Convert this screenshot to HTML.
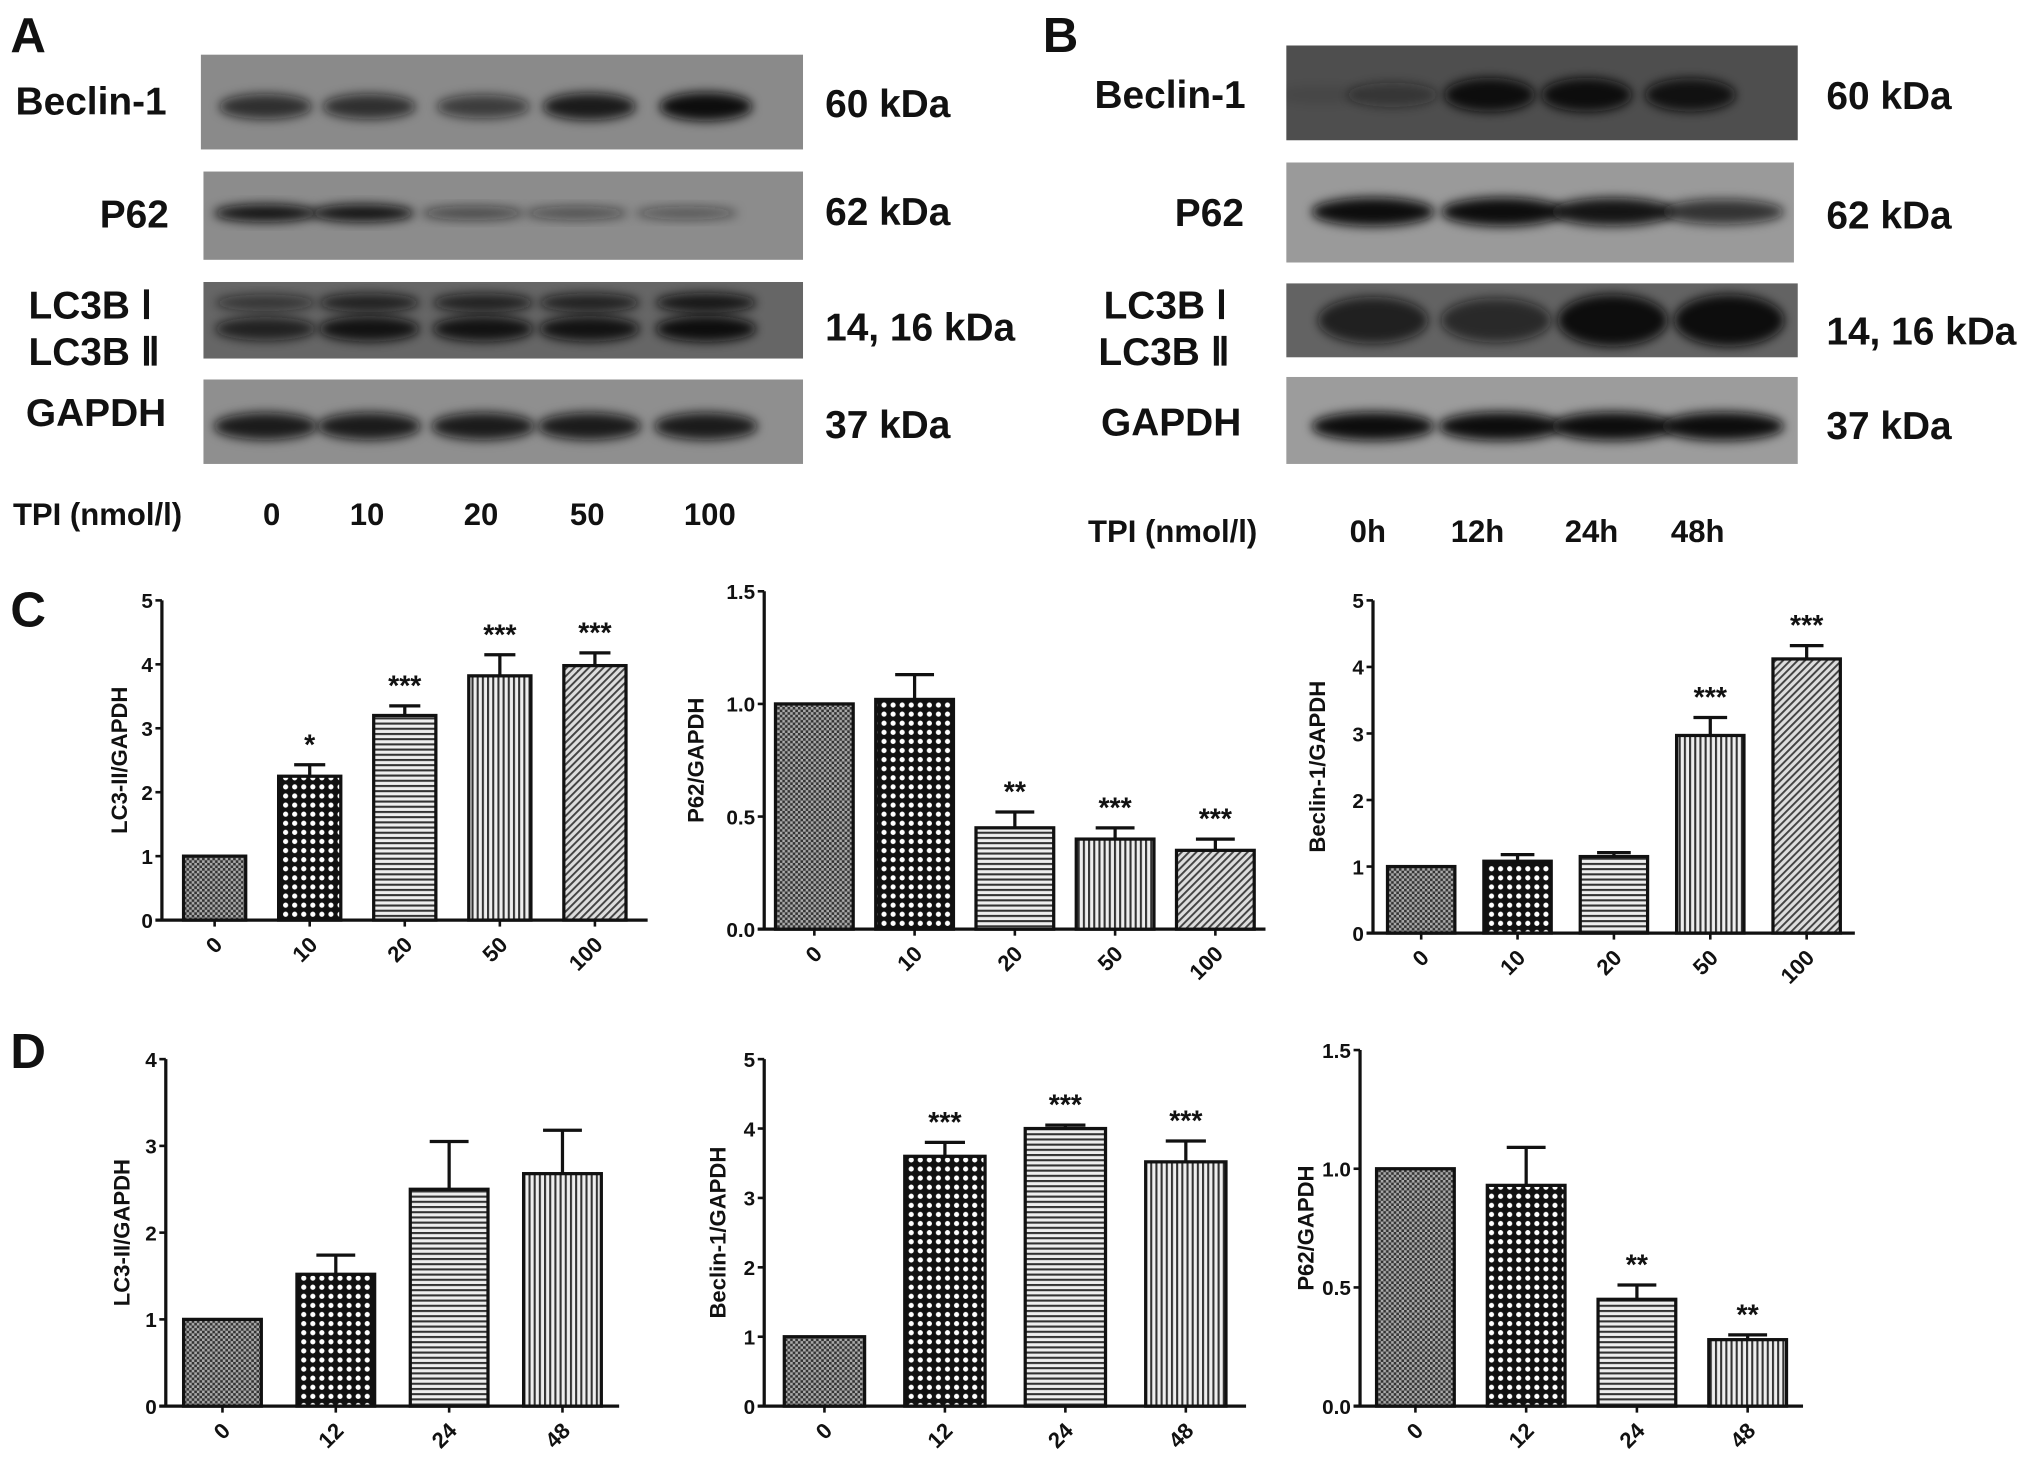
<!DOCTYPE html>
<html><head><meta charset="utf-8"><style>
html,body{margin:0;padding:0;background:#fff;}
svg{display:block;}
text{font-family:"Liberation Sans",Arial,sans-serif;font-weight:bold;fill:#111;}
</style></head><body>
<svg id="fig" width="2031" height="1475" viewBox="0 0 1568 1135" preserveAspectRatio="none" xmlns="http://www.w3.org/2000/svg">
<defs>
<filter id="blur" x="-20%" y="-50%" width="140%" height="200%"><feGaussianBlur stdDeviation="4"/></filter>
<pattern id="p-check" width="4" height="4" patternUnits="userSpaceOnUse"><rect width="4" height="4" fill="#aaa"/><rect width="2" height="2" fill="#333"/><rect x="2" y="2" width="2" height="2" fill="#333"/></pattern>
<pattern id="p-dots" width="7" height="7" patternUnits="userSpaceOnUse"><rect width="7" height="7" fill="#111"/><circle cx="3.5" cy="3.5" r="2" fill="#fff"/></pattern>
<pattern id="p-hline" width="4" height="4" patternUnits="userSpaceOnUse"><rect width="4" height="4" fill="#eee"/><rect width="4" height="1.6" fill="#333"/></pattern>
<pattern id="p-vline" width="4" height="4" patternUnits="userSpaceOnUse"><rect width="4" height="4" fill="#eee"/><rect width="1.6" height="4" fill="#333"/></pattern>
<pattern id="p-diag" width="4" height="4" patternUnits="userSpaceOnUse" patternTransform="rotate(45)"><rect width="4" height="4" fill="#ddd"/><rect width="1.5" height="4" fill="#444"/></pattern>
</defs>
<g id="blots"></g>
<g id="charts"></g>
</svg>
<script>
const NS="http://www.w3.org/2000/svg";
const svg=document.getElementById('fig');
const blots=document.getElementById('blots');
const charts=document.getElementById('charts');
const defs=svg.querySelector('defs');
function mk(tag,attrs,parent,text){const e=document.createElementNS(NS,tag);for(const k in attrs)e.setAttribute(k,attrs[k]);if(text!==undefined)e.textContent=text;(parent||svg).appendChild(e);return e;}

// ---- Panel letters ----
const letters=[["A",8,40],["B",805,40],["C",8,482],["D",8,822]];
letters.forEach(l=>{const t=mk('text',{x:l[1],y:l[2],'font-size':38},svg,l[0]);

});

// ---- Blot panels ----
const blotA_lanes=[205,285,373,455,545];
const blotA_beclin=[0.75,0.75,0.65,0.9,1];
const blotA_p62=[0.95,0.95,0.55,0.5,0.45];
const blotA_lc3_top=[0.6,0.8,0.8,0.8,0.9];
const blotA_lc3_bot=[0.8,0.95,0.95,0.95,1];
const blotA_gapdh=[0.9,0.9,0.9,0.9,0.9];
const blotB_beclin=[0.1,0.45,1,1,0.95];
const blotB_p62=[1,1,0.95,0.75];
const blotB_lc3=[0.8,0.7,1,1];
const blotB_gapdh=[1,1,1,1];
let clipId=0;
function strip(name,x,y,w,h,bg,lanes,vals,laneW,bandH,bandY){
  const g=mk('g',{},blots);
  
  
  const cid='clip'+(clipId++);
  const cp=mk('clipPath',{id:cid},defs);
  mk('rect',{x:x,y:y,width:w,height:h},cp);
  g.setAttribute('clip-path','url(#'+cid+')');
  mk('rect',{x:x,y:y,width:w,height:h,fill:bg},g);
  vals.forEach((v,i)=>{
    mk('ellipse',{cx:lanes[i],cy:y+(bandY||h/2),rx:laneW/2,ry:bandH*(0.5+0.5*v)/2,fill:'#111','fill-opacity':v,filter:'url(#blur)'},g);
  });
  return g;
}
strip('blot-a-beclin1',155,42,465,73,'#8a8a8a',blotA_lanes,blotA_beclin,72,22,40);
strip('blot-a-p62',157,132,463,68,'#8c8c8c',[205,280,365,445,530],blotA_p62,80,14,32);
strip('blot-a-lc3b-1',157,217,463,59,'#666',blotA_lanes,blotA_lc3_top,78,16,16);
strip('blot-a-lc3b-2',157,217,463,59,'rgba(0,0,0,0)',blotA_lanes,blotA_lc3_bot,78,20,36);
strip('blot-a-gapdh',157,292,463,65,'#8f8f8f',blotA_lanes,blotA_gapdh,80,22,36);
strip('blot-b-beclin1',993,35,395,73,'#4e4e4e',[1020,1075,1150,1225,1305],blotB_beclin,70,26,38);
strip('blot-b-p62',993,125,392,77,'#9a9a9a',[1060,1160,1245,1330],blotB_p62,95,22,38);
strip('blot-b-lc3b',993,218,395,57,'#636363',[1060,1155,1245,1335],blotB_lc3,85,40);
strip('blot-b-gapdh',993,290,395,67,'#9c9c9c',[1060,1158,1245,1330],blotB_gapdh,95,22,38);

const labelsA=[["Beclin-1",12,88],["P62",77,175],["LC3B Ⅰ",22,245],["LC3B Ⅱ",22,281],["GAPDH",20,328]];
const kdaA=[["60 kDa",637,90],["62 kDa",637,173],["14, 16 kDa",637,262],["37 kDa",637,337]];
const labelsB=[["Beclin-1",845,83],["P62",907,174],["LC3B Ⅰ",852,245],["LC3B Ⅱ",848,281],["GAPDH",850,335]];
const kdaB=[["60 kDa",1410,84],["62 kDa",1410,176],["14, 16 kDa",1410,265],["37 kDa",1410,338]];
function lbls(arr,size,prefix){arr.forEach((l,i)=>{const t=mk('text',{x:l[1],y:l[2],'font-size':size},svg,l[0]);

});}
lbls(labelsA,30,'blot-a-row-label');lbls(kdaA,30,'blot-a-kda');
lbls(labelsB,30,'blot-b-row-label');lbls(kdaB,30,'blot-b-kda');
const tpiA=[["TPI (nmol/l)",10],["0",203],["10",270],["20",358],["50",440],["100",528]];
const tpiB=[["TPI (nmol/l)",840],["0h",1042],["12h",1120],["24h",1208],["48h",1290]];
tpiA.forEach((l,i)=>{const t=mk('text',{x:l[1],y:404,'font-size':24},svg,l[0]);

});
tpiB.forEach((l,i)=>{const t=mk('text',{x:l[1],y:417,'font-size':24},svg,l[0]);

});

// ---- Bar chart data ----
const c1_cats=["0","10","20","50","100"];
const c1_vals=[1,2.25,3.2,3.82,3.98];
const c1_err=[0,0.18,0.15,0.33,0.2];
const c1_sig=["","*","***","***","***"];
const c1_ticks=[0,1,2,3,4,5];

const c2_cats=["0","10","20","50","100"];
const c2_vals=[1.0,1.02,0.45,0.40,0.35];
const c2_err=[0,0.11,0.07,0.05,0.05];
const c2_sig=["","","**","***","***"];
const c2_ticks=[0,0.5,1.0,1.5];

const c3_cats=["0","10","20","50","100"];
const c3_vals=[1.0,1.08,1.15,2.97,4.12];
const c3_err=[0,0.1,0.06,0.27,0.2];
const c3_sig=["","","","***","***"];
const c3_ticks=[0,1,2,3,4,5];

const d1_cats=["0","12","24","48"];
const d1_vals=[1.0,1.52,2.5,2.68];
const d1_err=[0,0.22,0.55,0.5];
const d1_sig=["","","",""];
const d1_ticks=[0,1,2,3,4];

const d2_cats=["0","12","24","48"];
const d2_vals=[1.0,3.6,4.0,3.52];
const d2_err=[0,0.2,0.05,0.3];
const d2_sig=["","***","***","***"];
const d2_ticks=[0,1,2,3,4,5];

const d3_cats=["0","12","24","48"];
const d3_vals=[1.0,0.93,0.45,0.28];
const d3_err=[0,0.16,0.06,0.02];
const d3_sig=["","","**","**"];
const d3_ticks=[0,0.5,1.0,1.5];

function chart(o){
  const g=mk('g',{},charts);
  
  
  const ymax=o.ticks[o.ticks.length-1];
  const ys=v=>o.y0-(v/ymax)*(o.y0-o.y1);
  const n=o.cats.length;
  const step=(o.xEnd-o.ax-o.pad*2)/n;
  const xs=i=>o.ax+o.pad+step*(i+0.5);
  const ya=mk('line',{x1:o.ax,y1:o.y1,x2:o.ax,y2:o.y0,stroke:'#111','stroke-width':2.5},g);
  
  
  const xa=mk('line',{x1:o.ax-5,y1:o.y0,x2:o.xEnd,y2:o.y0,stroke:'#111','stroke-width':2.5},g);
  
  
  o.ticks.forEach(t=>{
    mk('line',{x1:o.ax-5,y1:ys(t),x2:o.ax,y2:ys(t),stroke:'#111','stroke-width':2},g);
    const lab=mk('text',{x:o.ax-7,y:ys(t)+6,'font-size':16,'text-anchor':'end'},g,o.dec?t.toFixed(1):String(t));
    
    
  });
  const tt=mk('text',{x:0,y:0,'font-size':17,'text-anchor':'middle',transform:`translate(${o.titleX},${(o.y0+o.y1)/2}) rotate(-90)`},g,o.title);
  
  
  o.cats.forEach((c,i)=>{
    const cx=xs(i),v=o.vals[i],top=ys(v);
    const b=mk('rect',{x:cx-o.bw/2,y:top,width:o.bw,height:o.y0-top,fill:'url(#'+o.pats[i]+')',stroke:'#111','stroke-width':2.5},g);
    
    
    if(o.err[i]>0){
      const et=ys(v+o.err[i]);
      mk('line',{x1:cx,y1:top,x2:cx,y2:et,stroke:'#111','stroke-width':2.5},g);
      const cap=mk('line',{x1:cx-o.bw*0.25,y1:et,x2:cx+o.bw*0.25,y2:et,stroke:'#111','stroke-width':2.5},g);
      
      
    }
    if(o.sig[i]){
      const s=mk('text',{x:cx,y:ys(v+o.err[i])-8,'font-size':22,'text-anchor':'middle'},g,o.sig[i]);
      
      
    }
    mk('line',{x1:cx,y1:o.y0,x2:cx,y2:o.y0+5,stroke:'#111','stroke-width':2},g);
    const xl=mk('text',{x:0,y:0,'font-size':17,'text-anchor':'end',transform:`translate(${cx+7},${o.y0+20}) rotate(-45)`},g,c);
    
    
  });
}
const pat5=['p-check','p-dots','p-hline','p-vline','p-diag'];
const pat4=['p-check','p-dots','p-hline','p-vline'];
chart({name:'chart-c-lc3',cats:c1_cats,vals:c1_vals,err:c1_err,sig:c1_sig,ticks:c1_ticks,ax:125,y0:708,y1:462,xEnd:500,pad:4,bw:48,title:'LC3-II/GAPDH',titleX:98,pats:pat5});
chart({name:'chart-c-p62',cats:c2_cats,vals:c2_vals,err:c2_err,sig:c2_sig,ticks:c2_ticks,dec:true,ax:590,y0:715,y1:455,xEnd:977,pad:0,bw:60,title:'P62/GAPDH',titleX:543,pats:pat5});
chart({name:'chart-c-beclin',cats:c3_cats,vals:c3_vals,err:c3_err,sig:c3_sig,ticks:c3_ticks,ax:1060,y0:718,y1:462,xEnd:1432,pad:0,bw:52,title:'Beclin-1/GAPDH',titleX:1023,pats:pat5});
chart({name:'chart-d-lc3',cats:d1_cats,vals:d1_vals,err:d1_err,sig:d1_sig,ticks:d1_ticks,ax:128,y0:1082,y1:815,xEnd:478,pad:0,bw:60,title:'LC3-II/GAPDH',titleX:100,pats:pat4});
chart({name:'chart-d-beclin',cats:d2_cats,vals:d2_vals,err:d2_err,sig:d2_sig,ticks:d2_ticks,ax:590,y0:1082,y1:815,xEnd:962,pad:0,bw:62,title:'Beclin-1/GAPDH',titleX:560,pats:pat4});
chart({name:'chart-d-p62',cats:d3_cats,vals:d3_vals,err:d3_err,sig:d3_sig,ticks:d3_ticks,dec:true,ax:1050,y0:1082,y1:808,xEnd:1392,pad:0,bw:60,title:'P62/GAPDH',titleX:1014,pats:pat4});
</script>
</body></html>
